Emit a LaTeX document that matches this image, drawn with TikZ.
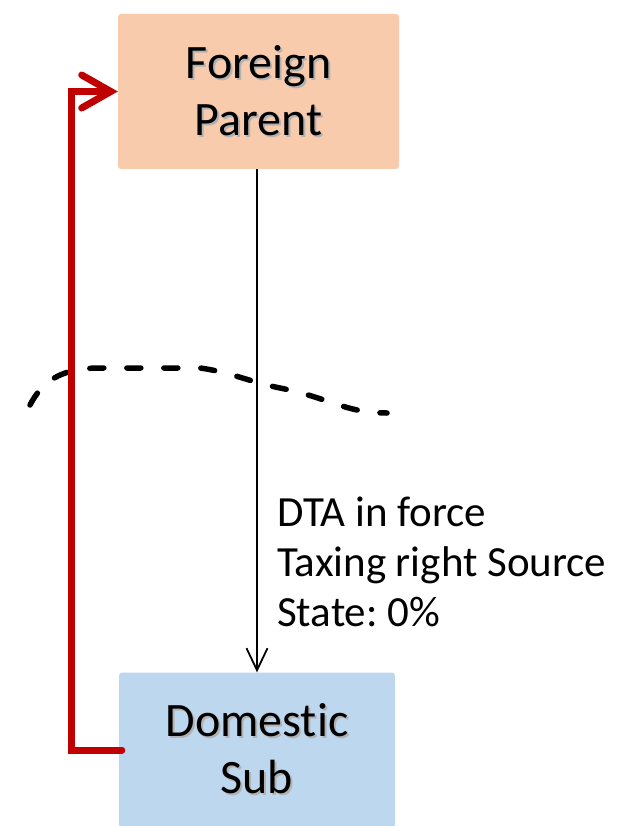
\documentclass[tikz,border=0pt]{standalone}
\usepackage{fontspec}
\setmainfont[Ligatures={NoCommon}]{Carlito}
\frenchspacing
\usetikzlibrary{arrows.meta}
\definecolor{peach}{HTML}{F8CBAD}
\definecolor{paleblue}{HTML}{BDD7EE}
\definecolor{darkred}{HTML}{C00000}
\newcommand{\shtext}[1]{\leavevmode\rlap{\hspace{2pt}\raisebox{-2pt}{\textcolor{black!30}{#1}}}#1}
\begin{document}
\begin{tikzpicture}[x=1pt,y=-1pt,
  entity/.style={rectangle, rounded corners=3pt, minimum width=281pt, minimum height=155pt,
    inner sep=0pt, align=center, font=\fontsize{48}{57}\selectfont},
  flow/.style={draw=black, line width=1.8pt, -{Straight Barb[length=22pt,width=21pt,line width=1.8pt]}},
  back/.style={draw=darkred, line width=7pt, line cap=round, line join=miter,
    -{Straight Barb[length=29pt,width=33pt,line width=7pt,line cap=round]}},
  border/.style={draw=black, line width=5.5pt, line cap=round, dash pattern=on 14pt off 23pt},
  note/.style={align=left, inner sep=0pt, font=\fontsize{43}{50}\selectfont}]
\useasboundingbox (0,0) rectangle (631,826);
\node[entity, fill=peach] (parent) at (258.5,91.5) {\shtext{Foreign}\\\shtext{Parent}};
\node[entity, fill=paleblue, minimum width=276pt] (sub) at (257,750) {\shtext{Domestic}\\\shtext{Sub}};
\draw[border] (30,405) .. controls (42,382) and (60,368) .. (100,368)
  -- (200,368) .. controls (230,372) and (250,382) .. (280,388)
  .. controls (330,398) and (345,413) .. (387,413);
\draw[flow] (parent.south -| 257,0) -- (sub.north -| 257,0);
\draw[back] ([xshift=3pt]sub.west) -- ++(-50,0) |- (parent.west);
\node[note, anchor=north west] (dta) at (277,497) {DTA in force\\Taxing right Source\\State: 0\%};
\end{tikzpicture}
\end{document}
